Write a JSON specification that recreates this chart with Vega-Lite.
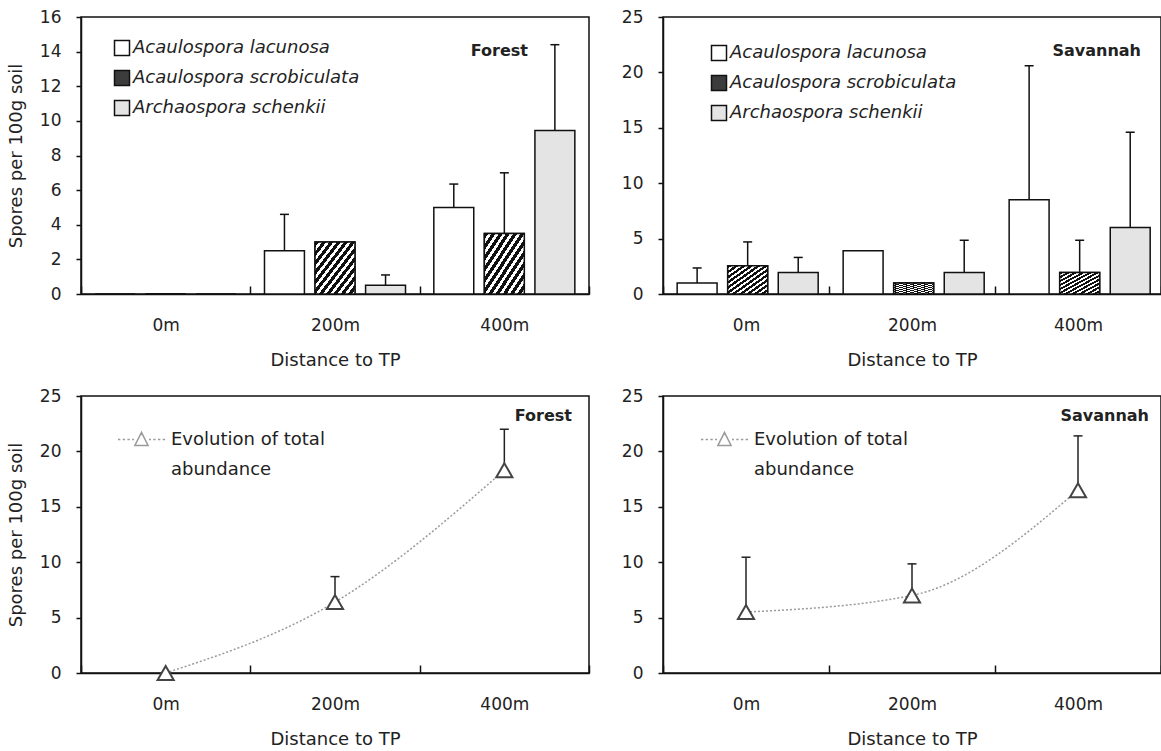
{
  "$schema": "https://vega.github.io/schema/vega-lite/v6.json",
  "padding": {"left": 6, "top": 7, "right": 1, "bottom": 0},
  "background": "white",
  "datasets": {
    "forest_bars": [
      {"dist": "0m", "species": "Acaulospora lacunosa", "value": 0, "upper": null},
      {"dist": "0m", "species": "Acaulospora scrobiculata", "value": 0, "upper": null},
      {"dist": "0m", "species": "Archaospora schenkii", "value": 0, "upper": null},
      {"dist": "200m", "species": "Acaulospora lacunosa", "value": 2.5, "upper": 4.6},
      {"dist": "200m", "species": "Acaulospora scrobiculata", "value": 3.0, "upper": null},
      {"dist": "200m", "species": "Archaospora schenkii", "value": 0.5, "upper": 1.1},
      {"dist": "400m", "species": "Acaulospora lacunosa", "value": 5.0, "upper": 6.35},
      {"dist": "400m", "species": "Acaulospora scrobiculata", "value": 3.5, "upper": 7.0},
      {"dist": "400m", "species": "Archaospora schenkii", "value": 9.45, "upper": 14.4}
    ],
    "savannah_bars": [
      {"dist": "0m", "species": "Acaulospora lacunosa", "value": 1.0, "upper": 2.35},
      {"dist": "0m", "species": "Acaulospora scrobiculata", "value": 2.55, "upper": 4.7},
      {"dist": "0m", "species": "Archaospora schenkii", "value": 1.95, "upper": 3.3},
      {"dist": "200m", "species": "Acaulospora lacunosa", "value": 3.9, "upper": null},
      {"dist": "200m", "species": "Acaulospora scrobiculata", "value": 1.0, "upper": null},
      {"dist": "200m", "species": "Archaospora schenkii", "value": 1.95, "upper": 4.85},
      {"dist": "400m", "species": "Acaulospora lacunosa", "value": 8.5, "upper": 20.6},
      {"dist": "400m", "species": "Acaulospora scrobiculata", "value": 1.95, "upper": 4.85},
      {"dist": "400m", "species": "Archaospora schenkii", "value": 6.0, "upper": 14.6}
    ],
    "forest_total": [
      {"dist": "0m", "value": 0, "upper": null},
      {"dist": "200m", "value": 6.4, "upper": 8.7},
      {"dist": "400m", "value": 18.3, "upper": 22.0}
    ],
    "savannah_total": [
      {"dist": "0m", "value": 5.5, "upper": 10.45},
      {"dist": "200m", "value": 7.0, "upper": 9.85},
      {"dist": "400m", "value": 16.5, "upper": 21.4}
    ]
  },
  "config": {
    "view": {"stroke": "#111", "strokeWidth": 1.5},
    "font": "DejaVu Sans",
    "axis": {
      "grid": false,
      "domainColor": "#111",
      "domainWidth": 1.5,
      "tickColor": "#111",
      "tickWidth": 1.5,
      "labelFont": "DejaVu Sans",
      "labelFontSize": 17,
      "labelColor": "#222",
      "titleFont": "DejaVu Sans",
      "titleFontSize": 18,
      "titleFontWeight": "normal",
      "titleColor": "#222"
    },
    "axisX": {"tickBand": "extent", "tickSize": -8, "labelAngle": 0, "labelPadding": 31, "titlePadding": 18},
    "axisY": {"tickSize": 5, "labelPadding": 15, "titlePadding": 14},
    "legend": {
      "labelFont": "DejaVu Sans",
      "labelFontSize": 18,
      "labelColor": "#222",
      "labelLimit": 400
    },
    "title": {"font": "DejaVu Sans", "fontSize": 16, "fontWeight": "bold", "color": "#222"}
  },
  "resolve": {"scale": {"color": "independent", "fill": "independent"}, "legend": {"color": "independent", "fill": "independent"}},
  "vconcat": [
    {
      "resolve": {"scale": {"color": "independent", "fill": "independent"}, "legend": {"color": "independent", "fill": "independent"}},
      "hconcat": [
        {
          "width": 508,
          "height": 277,
          "data": {"name": "forest_bars"},
          "title": {"text": "Forest", "orient": "top", "anchor": "end", "frame": "group", "baseline": "middle", "offset": -34, "dx": -61, "dy": 25},
          "encoding": {
            "x": {"field": "dist", "type": "nominal", "sort": ["0m", "200m", "400m"], "scale": {"paddingInner": 0, "paddingOuter": 0}, "axis": {"title": "Distance to TP"}},
            "xOffset": {"field": "species", "type": "nominal", "sort": ["Acaulospora lacunosa", "Acaulospora scrobiculata", "Archaospora schenkii"], "scale": {"paddingInner": 0.21, "paddingOuter": 0.28}},
            "y": {"field": "value", "type": "quantitative", "scale": {"domain": [0, 16]}, "axis": {"values": [0, 2, 4, 6, 8, 10, 12, 14, 16], "title": "Spores per 100g soil"}}
          },
          "layer": [
            {
              "mark": {"type": "bar", "stroke": "#111", "strokeWidth": 1.5},
              "encoding": {
                "fill": {
                  "field": "species", "type": "nominal",
                  "scale": {
                    "domain": ["Acaulospora lacunosa", "Acaulospora scrobiculata", "Archaospora schenkii"],
                    "range": ["#ffffff", "#3c3c3c", "#e4e4e4"]
                  },
                  "legend": {"title": null, "orient": "none", "legendX": 32, "legendY": 22, "symbolType": "square", "symbolSize": 225, "symbolStrokeColor": "#111", "symbolStrokeWidth": 1.5, "symbolOpacity": 1, "labelFontStyle": "italic", "rowPadding": 8, "labelOffset": 2,
                    "encode": {"symbols": {"update": {
                      "stroke": {"value": "#111"},
                      "strokeWidth": {"value": 1.5},
                      "opacity": {"value": 1},
                      "fill": [
                      {"test": "datum.value === 'Acaulospora scrobiculata'", "value": {"gradient": "linear", "x1": 0, "y1": 0, "x2": 1, "y2": 1, "stops": [
                        {"offset": 0, "color": "#111"}, {"offset": 0.15, "color": "#111"}, {"offset": 0.15, "color": "#fff"}, {"offset": 0.25, "color": "#fff"},
                        {"offset": 0.25, "color": "#111"}, {"offset": 0.4, "color": "#111"}, {"offset": 0.4, "color": "#fff"}, {"offset": 0.5, "color": "#fff"},
                        {"offset": 0.5, "color": "#111"}, {"offset": 0.65, "color": "#111"}, {"offset": 0.65, "color": "#fff"}, {"offset": 0.75, "color": "#fff"},
                        {"offset": 0.75, "color": "#111"}, {"offset": 0.9, "color": "#111"}, {"offset": 0.9, "color": "#fff"}, {"offset": 1, "color": "#fff"}
                      ]}},
                      {"test": "datum.value === 'Archaospora schenkii'", "value": "#e4e4e4"},
                      {"value": "#ffffff"}
                    ]}}}
                  }
                }
              }
            },
            {
              "transform": [{"filter": "datum.species == 'Acaulospora scrobiculata'"}],
              "mark": {"type": "bar", "stroke": "#111", "strokeWidth": 1.5, "fill": {"gradient": "linear", "x1": 0, "y1": 0, "x2": 1, "y2": 1, "stops": [
                      {"offset": 0, "color": "#111"}, {"offset": 0.05, "color": "#111"}, {"offset": 0.05, "color": "#fff"}, {"offset": 0.0909, "color": "#fff"},
                      {"offset": 0.0909, "color": "#111"}, {"offset": 0.1409, "color": "#111"}, {"offset": 0.1409, "color": "#fff"}, {"offset": 0.1818, "color": "#fff"},
                      {"offset": 0.1818, "color": "#111"}, {"offset": 0.2318, "color": "#111"}, {"offset": 0.2318, "color": "#fff"}, {"offset": 0.2727, "color": "#fff"},
                      {"offset": 0.2727, "color": "#111"}, {"offset": 0.3227, "color": "#111"}, {"offset": 0.3227, "color": "#fff"}, {"offset": 0.3636, "color": "#fff"},
                      {"offset": 0.3636, "color": "#111"}, {"offset": 0.4136, "color": "#111"}, {"offset": 0.4136, "color": "#fff"}, {"offset": 0.4545, "color": "#fff"},
                      {"offset": 0.4545, "color": "#111"}, {"offset": 0.5045, "color": "#111"}, {"offset": 0.5045, "color": "#fff"}, {"offset": 0.5455, "color": "#fff"},
                      {"offset": 0.5455, "color": "#111"}, {"offset": 0.5955, "color": "#111"}, {"offset": 0.5955, "color": "#fff"}, {"offset": 0.6364, "color": "#fff"},
                      {"offset": 0.6364, "color": "#111"}, {"offset": 0.6864, "color": "#111"}, {"offset": 0.6864, "color": "#fff"}, {"offset": 0.7273, "color": "#fff"},
                      {"offset": 0.7273, "color": "#111"}, {"offset": 0.7773, "color": "#111"}, {"offset": 0.7773, "color": "#fff"}, {"offset": 0.8182, "color": "#fff"},
                      {"offset": 0.8182, "color": "#111"}, {"offset": 0.8682, "color": "#111"}, {"offset": 0.8682, "color": "#fff"}, {"offset": 0.9091, "color": "#fff"},
                      {"offset": 0.9091, "color": "#111"}, {"offset": 0.9591, "color": "#111"}, {"offset": 0.9591, "color": "#fff"}, {"offset": 1, "color": "#fff"}
                    ]}}
            },
            {
              "transform": [{"filter": "datum.upper != null"}],
              "mark": {"type": "rule", "color": "#111", "strokeWidth": 1.5},
              "encoding": {"y2": {"field": "upper"}}
            },
            {
              "transform": [{"filter": "datum.upper != null"}],
              "mark": {"type": "tick", "color": "#111", "size": 9, "thickness": 1.5, "opacity": 1},
              "encoding": {"y": {"field": "upper", "type": "quantitative"}}
            }
          ]
        },
        {
          "width": 498,
          "height": 277,
          "data": {"name": "savannah_bars"},
          "title": {"text": "Savannah", "orient": "top", "anchor": "end", "frame": "group", "baseline": "middle", "offset": -34, "dx": -20, "dy": 25},
          "encoding": {
            "x": {"field": "dist", "type": "nominal", "sort": ["0m", "200m", "400m"], "scale": {"paddingInner": 0, "paddingOuter": 0}, "axis": {"title": "Distance to TP"}},
            "xOffset": {"field": "species", "type": "nominal", "sort": ["Acaulospora lacunosa", "Acaulospora scrobiculata", "Archaospora schenkii"], "scale": {"paddingInner": 0.21, "paddingOuter": 0.28}},
            "y": {"field": "value", "type": "quantitative", "scale": {"domain": [0, 25]}, "axis": {"values": [0, 5, 10, 15, 20, 25], "title": null}}
          },
          "layer": [
            {
              "mark": {"type": "bar", "stroke": "#111", "strokeWidth": 1.5},
              "encoding": {
                "fill": {
                  "field": "species", "type": "nominal",
                  "scale": {
                    "domain": ["Acaulospora lacunosa", "Acaulospora scrobiculata", "Archaospora schenkii"],
                    "range": ["#ffffff", "#3c3c3c", "#e4e4e4"]
                  },
                  "legend": {"title": null, "orient": "none", "legendX": 47, "legendY": 27, "symbolType": "square", "symbolSize": 225, "symbolStrokeColor": "#111", "symbolStrokeWidth": 1.5, "symbolOpacity": 1, "labelFontStyle": "italic", "rowPadding": 8, "labelOffset": 2,
                    "encode": {"symbols": {"update": {
                      "stroke": {"value": "#111"},
                      "strokeWidth": {"value": 1.5},
                      "opacity": {"value": 1},
                      "fill": [
                      {"test": "datum.value === 'Acaulospora scrobiculata'", "value": {"gradient": "linear", "x1": 0, "y1": 0, "x2": 1, "y2": 1, "stops": [
                        {"offset": 0, "color": "#111"}, {"offset": 0.15, "color": "#111"}, {"offset": 0.15, "color": "#fff"}, {"offset": 0.25, "color": "#fff"},
                        {"offset": 0.25, "color": "#111"}, {"offset": 0.4, "color": "#111"}, {"offset": 0.4, "color": "#fff"}, {"offset": 0.5, "color": "#fff"},
                        {"offset": 0.5, "color": "#111"}, {"offset": 0.65, "color": "#111"}, {"offset": 0.65, "color": "#fff"}, {"offset": 0.75, "color": "#fff"},
                        {"offset": 0.75, "color": "#111"}, {"offset": 0.9, "color": "#111"}, {"offset": 0.9, "color": "#fff"}, {"offset": 1, "color": "#fff"}
                      ]}},
                      {"test": "datum.value === 'Archaospora schenkii'", "value": "#e4e4e4"},
                      {"value": "#ffffff"}
                    ]}}}
                  }
                }
              }
            },
            {
              "transform": [{"filter": "datum.species == 'Acaulospora scrobiculata'"}],
              "mark": {"type": "bar", "stroke": "#111", "strokeWidth": 1.5, "fill": {"gradient": "linear", "x1": 0, "y1": 0, "x2": 1, "y2": 1, "stops": [
                      {"offset": 0, "color": "#111"}, {"offset": 0.05, "color": "#111"}, {"offset": 0.05, "color": "#fff"}, {"offset": 0.0909, "color": "#fff"},
                      {"offset": 0.0909, "color": "#111"}, {"offset": 0.1409, "color": "#111"}, {"offset": 0.1409, "color": "#fff"}, {"offset": 0.1818, "color": "#fff"},
                      {"offset": 0.1818, "color": "#111"}, {"offset": 0.2318, "color": "#111"}, {"offset": 0.2318, "color": "#fff"}, {"offset": 0.2727, "color": "#fff"},
                      {"offset": 0.2727, "color": "#111"}, {"offset": 0.3227, "color": "#111"}, {"offset": 0.3227, "color": "#fff"}, {"offset": 0.3636, "color": "#fff"},
                      {"offset": 0.3636, "color": "#111"}, {"offset": 0.4136, "color": "#111"}, {"offset": 0.4136, "color": "#fff"}, {"offset": 0.4545, "color": "#fff"},
                      {"offset": 0.4545, "color": "#111"}, {"offset": 0.5045, "color": "#111"}, {"offset": 0.5045, "color": "#fff"}, {"offset": 0.5455, "color": "#fff"},
                      {"offset": 0.5455, "color": "#111"}, {"offset": 0.5955, "color": "#111"}, {"offset": 0.5955, "color": "#fff"}, {"offset": 0.6364, "color": "#fff"},
                      {"offset": 0.6364, "color": "#111"}, {"offset": 0.6864, "color": "#111"}, {"offset": 0.6864, "color": "#fff"}, {"offset": 0.7273, "color": "#fff"},
                      {"offset": 0.7273, "color": "#111"}, {"offset": 0.7773, "color": "#111"}, {"offset": 0.7773, "color": "#fff"}, {"offset": 0.8182, "color": "#fff"},
                      {"offset": 0.8182, "color": "#111"}, {"offset": 0.8682, "color": "#111"}, {"offset": 0.8682, "color": "#fff"}, {"offset": 0.9091, "color": "#fff"},
                      {"offset": 0.9091, "color": "#111"}, {"offset": 0.9591, "color": "#111"}, {"offset": 0.9591, "color": "#fff"}, {"offset": 1, "color": "#fff"}
                    ]}}
            },
            {
              "transform": [{"filter": "datum.upper != null"}],
              "mark": {"type": "rule", "color": "#111", "strokeWidth": 1.5},
              "encoding": {"y2": {"field": "upper"}}
            },
            {
              "transform": [{"filter": "datum.upper != null"}],
              "mark": {"type": "tick", "color": "#111", "size": 9, "thickness": 1.5, "opacity": 1},
              "encoding": {"y": {"field": "upper", "type": "quantitative"}}
            }
          ]
        }
      ],
      "spacing": 29
    },
    {
      "resolve": {"scale": {"color": "independent", "fill": "independent"}, "legend": {"color": "independent", "fill": "independent"}},
      "hconcat": [
        {
          "width": 508,
          "height": 277,
          "data": {"name": "forest_total"},
          "title": {"text": "Forest", "orient": "top", "anchor": "end", "frame": "group", "baseline": "middle", "offset": -20, "dx": -17, "dy": 25},
          "encoding": {
            "x": {"field": "dist", "type": "nominal", "sort": ["0m", "200m", "400m"], "scale": {"paddingInner": 0, "paddingOuter": 0}, "axis": {"title": "Distance to TP"}},
            "y": {"field": "value", "type": "quantitative", "scale": {"domain": [0, 25]}, "axis": {"values": [0, 5, 10, 15, 20, 25], "title": "Spores per 100g soil"}}
          },
          "layer": [
            {
              "mark": {"type": "line", "interpolate": "monotone", "strokeDash": [2, 2], "strokeWidth": 1.5},
              "encoding": {
                "color": {
                  "datum": "Evolution of total abundance",
                  "scale": {"range": ["#9a9a9a"]},
                  "legend": {"title": null, "orient": "none", "legendX": 36, "legendY": 19, "labelExpr": "['Evolution of total', 'abundance']", "labelBaseline": "middle", "labelOffset": 5,
                    "symbolType": "M-1,0H-0.9M-0.8,0H-0.7M-0.6,0H-0.5M-0.4,0H-0.32M0.32,0H0.4M0.5,0H0.6M0.7,0H0.8M0.9,0H1M-0.28,0.25L0,-0.3L0.28,0.25Z",
                    "symbolSize": 2209, "symbolStrokeColor": "#555", "symbolFillColor": "white", "symbolStrokeWidth": 1.5, "symbolOpacity": 1,
                    "encode": {"labels": {"update": {"lineHeight": {"value": 30}}}}}
                }
              }
            },
            {
              "transform": [{"filter": "datum.upper != null"}],
              "mark": {"type": "rule", "color": "#222", "strokeWidth": 1.5},
              "encoding": {"y2": {"field": "upper"}}
            },
            {
              "transform": [{"filter": "datum.upper != null"}],
              "mark": {"type": "tick", "color": "#222", "size": 9, "thickness": 1.5, "opacity": 1},
              "encoding": {"y": {"field": "upper", "type": "quantitative"}}
            },
            {
              "mark": {"type": "point", "shape": "triangle-up", "filled": false, "fill": "white", "fillOpacity": 1, "stroke": "#444", "strokeWidth": 2, "size": 260, "opacity": 1}
            }
          ]
        },
        {
          "width": 498,
          "height": 277,
          "data": {"name": "savannah_total"},
          "title": {"text": "Savannah", "orient": "top", "anchor": "end", "frame": "group", "baseline": "middle", "offset": -20, "dx": -12, "dy": 25},
          "encoding": {
            "x": {"field": "dist", "type": "nominal", "sort": ["0m", "200m", "400m"], "scale": {"paddingInner": 0, "paddingOuter": 0}, "axis": {"title": "Distance to TP"}},
            "y": {"field": "value", "type": "quantitative", "scale": {"domain": [0, 25]}, "axis": {"values": [0, 5, 10, 15, 20, 25], "title": null}}
          },
          "layer": [
            {
              "mark": {"type": "line", "interpolate": "monotone", "strokeDash": [2, 2], "strokeWidth": 1.5},
              "encoding": {
                "color": {
                  "datum": "Evolution of total abundance",
                  "scale": {"range": ["#9a9a9a"]},
                  "legend": {"title": null, "orient": "none", "legendX": 37, "legendY": 19, "labelExpr": "['Evolution of total', 'abundance']", "labelBaseline": "middle", "labelOffset": 5,
                    "symbolType": "M-1,0H-0.9M-0.8,0H-0.7M-0.6,0H-0.5M-0.4,0H-0.32M0.32,0H0.4M0.5,0H0.6M0.7,0H0.8M0.9,0H1M-0.28,0.25L0,-0.3L0.28,0.25Z",
                    "symbolSize": 2209, "symbolStrokeColor": "#555", "symbolFillColor": "white", "symbolStrokeWidth": 1.5, "symbolOpacity": 1,
                    "encode": {"labels": {"update": {"lineHeight": {"value": 30}}}}}
                }
              }
            },
            {
              "transform": [{"filter": "datum.upper != null"}],
              "mark": {"type": "rule", "color": "#222", "strokeWidth": 1.5},
              "encoding": {"y2": {"field": "upper"}}
            },
            {
              "transform": [{"filter": "datum.upper != null"}],
              "mark": {"type": "tick", "color": "#222", "size": 9, "thickness": 1.5, "opacity": 1},
              "encoding": {"y": {"field": "upper", "type": "quantitative"}}
            },
            {
              "mark": {"type": "point", "shape": "triangle-up", "filled": false, "fill": "white", "fillOpacity": 1, "stroke": "#444", "strokeWidth": 2, "size": 260, "opacity": 1}
            }
          ]
        }
      ],
      "spacing": 29
    }
  ],
  "spacing": 16
}
